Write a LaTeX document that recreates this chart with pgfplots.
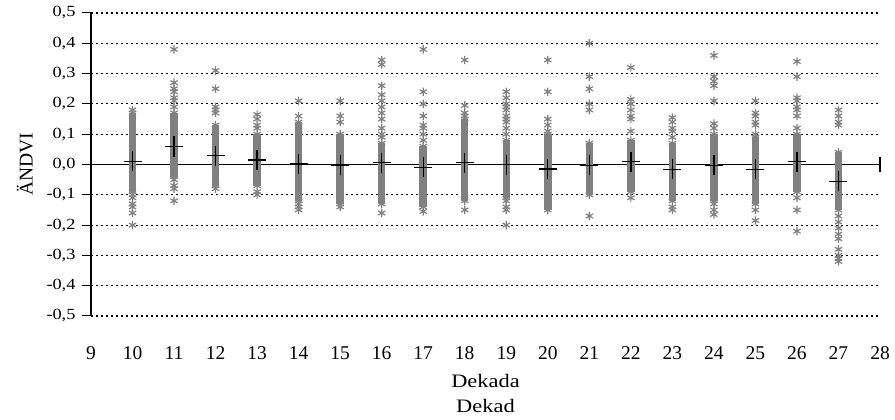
\documentclass[border=0pt]{standalone}
\usepackage{fontspec}
\setmainfont{Liberation Serif}
\newfontfamily\widefont[FakeStretch=1.18]{Liberation Serif}
\usepackage{pgfplots}
\pgfplotsset{compat=1.18}
\usepackage{pgfplotstable}
\definecolor{markgray}{RGB}{128,128,128}

% dense part of each dekad (solid grey column)
\pgfplotstableread{
x lo hi
10 -0.09 0.17
11 -0.04 0.17
12 -0.07 0.13
13 -0.07 0.10
14 -0.12 0.14
15 -0.13 0.10
16 -0.13 0.07
17 -0.14 0.06
18 -0.12 0.15
19 -0.11 0.08
20 -0.15 0.10
21 -0.10 0.07
22 -0.09 0.08
23 -0.12 0.07
24 -0.12 0.10
25 -0.13 0.09
26 -0.09 0.10
27 -0.15 0.04
}\bands

% single values outside the dense part
\pgfplotstableread{
x y
10 0.18
10 -0.10
10 -0.11
10 -0.13
10 -0.14
10 -0.16
10 -0.20
11 0.19
11 0.21
11 0.22
11 0.24
11 0.25
11 0.27
11 0.38
11 -0.05
11 -0.07
11 -0.08
11 -0.12
12 0.17
12 0.18
12 0.19
12 0.25
12 0.31
12 -0.08
13 0.12
13 0.13
13 0.15
13 0.165
13 -0.09
13 -0.10
14 0.16
14 0.21
14 -0.13
14 -0.14
14 -0.15
15 0.14
15 0.16
15 0.21
15 -0.14
16 0.09
16 0.10
16 0.12
16 0.15
16 0.17
16 0.19
16 0.21
16 0.23
16 0.26
16 0.33
16 0.345
16 -0.16
17 0.08
17 0.10
17 0.12
17 0.13
17 0.16
17 0.20
17 0.24
17 0.38
17 -0.155
18 0.16
18 0.17
18 0.195
18 0.345
18 -0.15
19 0.10
19 0.12
19 0.14
19 0.15
19 0.16
19 0.18
19 0.19
19 0.20
19 0.22
19 0.24
19 -0.12
19 -0.14
19 -0.15
19 -0.20
20 0.11
20 0.13
20 0.15
20 0.24
20 0.345
21 0.18
21 0.20
21 0.25
21 0.29
21 0.40
21 -0.17
22 0.11
22 0.15
22 0.16
22 0.18
22 0.20
22 0.215
22 0.32
22 -0.11
23 0.09
23 0.11
23 0.12
23 0.14
23 0.155
23 -0.14
23 -0.15
24 0.12
24 0.135
24 0.21
24 0.26
24 0.275
24 0.29
24 0.36
24 -0.13
24 -0.15
24 -0.165
25 0.10
25 0.13
25 0.14
25 0.16
25 0.17
25 0.21
25 -0.15
25 -0.185
26 0.12
26 0.16
26 0.18
26 0.19
26 0.21
26 0.22
26 0.29
26 0.34
26 -0.11
26 -0.15
26 -0.22
27 0.13
27 0.14
27 0.16
27 0.18
27 -0.17
27 -0.19
27 -0.21
27 -0.23
27 -0.245
27 -0.28
27 -0.30
27 -0.31
27 -0.32
}\outliers

% mean and error per dekad
\pgfplotstableread{
x m e
10 0.011 0.033
11 0.059 0.034
12 0.029 0.033
13 0.015 0.033
14 0.002 0.033
15 -0.002 0.033
16 0.006 0.033
17 -0.009 0.033
18 0.006 0.033
19 -0.001 0.033
20 -0.015 0.033
21 -0.003 0.033
22 0.009 0.033
23 -0.016 0.033
24 -0.003 0.033
25 -0.016 0.033
26 0.009 0.033
27 -0.056 0.033
}\means

\begin{document}
\begin{tikzpicture}
\begin{axis}[
    scale only axis,
    width=789pt, height=303pt,
    xmin=9, xmax=28, ymin=-0.5, ymax=0.5,
    axis lines*=left,
    x axis line style={draw=none},
    y axis line style={line width=1.2pt, black},
    xtick={9,10,...,28},
    xtick style={draw=none},
    ytick={-0.5,-0.4,-0.3,-0.2,-0.1,0,0.1,0.2,0.3,0.4,0.5},
    tick align=outside,
    major tick length=9pt,
    ytick style={line width=1pt, black},
    ymajorgrids,
    grid style={black, line width=1.1pt, dash pattern=on 2pt off 3pt},
    /pgf/number format/assume math mode=true,
    yticklabel style={font=\widefont\fontsize{15.5}{15.5}\selectfont, xshift=-3pt,
        /pgf/number format/use comma, /pgf/number format/fixed,
        /pgf/number format/fixed zerofill, /pgf/number format/precision=1},
    xticklabel style={font=\fontsize{19.5}{19.5}\selectfont, yshift=-18pt},
    xlabel={Dekada\\Dekad},
    ylabel={ÄNDVI},
    every axis x label/.style={at={(axis description cs:0.5,0)}, anchor=north,
        yshift=-55pt, align=center, font=\widefont\fontsize{19}{25}\selectfont},
    every axis y label/.style={at={(axis description cs:0,0.5)}, anchor=center,
        rotate=90, yshift=66pt, font=\fontsize{19.5}{19.5}\selectfont},
    clip=false,
]
\draw[black, line width=1.1pt] (axis cs:9,0) -- (axis cs:28,0);
\draw[black, line width=1.1pt] (axis cs:28,-0.025) -- (axis cs:28,0.025);

\addplot[draw=none, mark=none, forget plot,
    error bars/.cd, y dir=minus, y explicit, error mark=none,
    error bar style={draw=markgray, line width=7.5pt}]
    table[x=x, y=hi, y error expr=\thisrow{hi}-\thisrow{lo}] \bands;

\addplot[only marks, mark=asterisk, mark size=4.2pt,
    mark options={draw=markgray, line width=1.2pt}]
    table[x=x, y=lo] \bands;
\addplot[only marks, mark=asterisk, mark size=4.2pt,
    mark options={draw=markgray, line width=1.2pt}]
    table[x=x, y=hi] \bands;
\addplot[only marks, mark=asterisk, mark size=4.2pt,
    mark options={draw=markgray, line width=1.2pt}]
    table[x=x, y=y] \outliers;

\addplot[only marks, mark=-, mark size=9pt,
    mark options={draw=black, line width=1.3pt},
    error bars/.cd, y dir=both, y explicit, error mark=none,
    error bar style={draw=black, line width=1.3pt}]
    table[x=x, y=m, y error=e] \means;

\coordinate (sw) at (rel axis cs:0,0);
\coordinate (ne) at (rel axis cs:1,1);
\end{axis}
\pgfresetboundingbox
\path[use as bounding box] ([shift={(-91pt,-104pt)}]sw) rectangle ([shift={(15pt,13pt)}]ne);
\end{tikzpicture}
\end{document}
